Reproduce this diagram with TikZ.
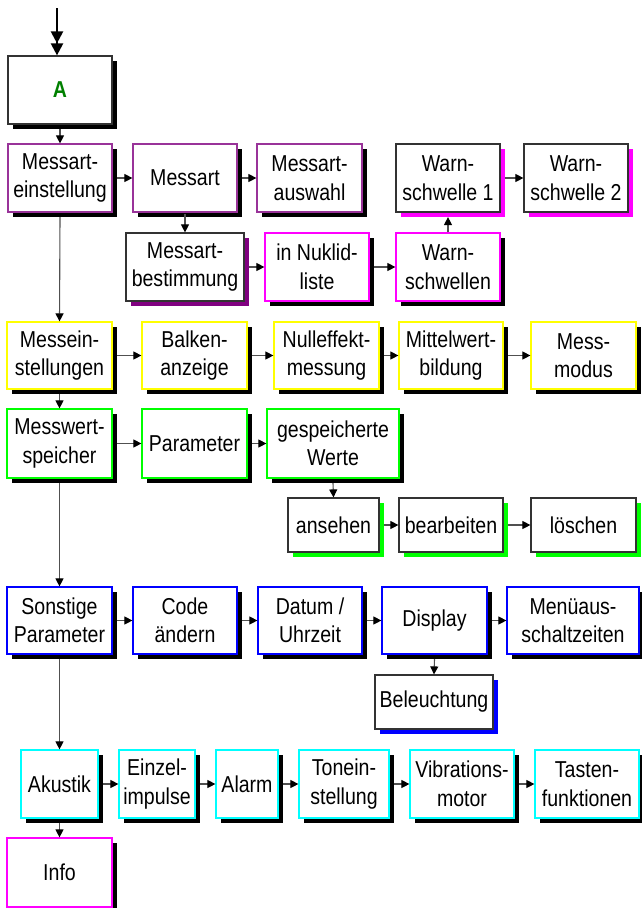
\documentclass[tikz,border=0pt]{standalone}
\usepackage{fontspec}
\setmainfont{Liberation Sans}
\newfontfamily\condfont[FakeStretch=0.85]{Liberation Sans}
\usetikzlibrary{arrows.meta,shadows}
\definecolor{purpbd}{HTML}{993399}
\definecolor{purpsh}{HTML}{800080}
\definecolor{magbd}{HTML}{FF00FF}
\definecolor{yelbd}{HTML}{FFFF00}
\definecolor{grnbd}{HTML}{00FF00}
\definecolor{blubd}{HTML}{0000FF}
\definecolor{cyabd}{HTML}{00FFFF}
\definecolor{darkgr}{HTML}{008000}
\definecolor{conn}{HTML}{505050}
\tikzset{
  box/.style={draw, line width=1.2pt, fill=white, inner sep=0pt, align=center,
    font=\condfont\fontsize{23}{28.5}\selectfont},
  shad/.style={general shadow={fill=#1, shadow xshift=4.5pt, shadow yshift=-4.5pt}},
  bw/.style={minimum width=#1},
  bh/.style={minimum height=#1},
  colbox/.style={box, draw=#1, shad=black},
  blkbox/.style={box, draw=black!80, shad=#1},
  link/.style={draw=conn, line width=1.1pt, -{Triangle[length=8pt,width=8pt,color=black]}},
}
\begin{document}
\begin{tikzpicture}[x=1pt,y=-1pt]
\useasboundingbox (0,0) rectangle (641,908);
% row 0
\node[blkbox=black, bw=104, bh=68, font=\condfont\fontsize{23}{28}\selectfont\bfseries, text=darkgr] (A) at (60,90) {A};
% row 1
\node[colbox=purpbd, bw=104, bh=68] (me) at (60,178) {Messart-\\einstellung};
\node[colbox=purpbd, bw=104, bh=68] (ma) at (185,178) {Messart};
\node[colbox=purpbd, bw=105, bh=68] (mau) at (309.5,178) {Messart-\\auswahl};
\node[blkbox=magbd, bw=104, bh=68] (ws1) at (448,178) {Warn-\\schwelle 1};
\node[blkbox=magbd, bw=104, bh=68] (ws2) at (576,178) {Warn-\\schwelle 2};
% row 2
\node[blkbox=purpsh, bw=118, bh=68] (mb) at (185,267) {Messart-\\bestimmung};
\node[colbox=magbd, bw=104, bh=68] (nl) at (317,267) {in Nuklid-\\liste};
\node[colbox=magbd, bw=104, bh=68] (wss) at (448,267) {Warn-\\schwellen};
% row 3
\node[colbox=yelbd, bw=105, bh=67] (mes) at (59.5,355.5) {Messein-\\stellungen};
\node[colbox=yelbd, bw=105, bh=67] (bal) at (194.5,355.5) {Balken-\\anzeige};
\node[colbox=yelbd, bw=105, bh=67] (nul) at (326.5,355.5) {Nulleffekt-\\messung};
\node[colbox=yelbd, bw=104, bh=67] (mit) at (451,355.5) {Mittelwert-\\bildung};
\node[colbox=yelbd, bw=105, bh=67] (mod) at (583.5,355.5) {Mess-\\modus};
% row 4
\node[colbox=grnbd, bw=105, bh=69] (mws) at (59.5,443.5) {Messwert-\\speicher};
\node[colbox=grnbd, bw=105, bh=69] (par) at (194.5,443.5) {Parameter};
\node[colbox=grnbd, bw=132, bh=69] (gw) at (333,443.5) {gespeicherte\\Werte};
% row 5
\node[blkbox=grnbd, bw=91, bh=54] (ans) at (333.5,525) {ansehen};
\node[blkbox=grnbd, bw=104, bh=54] (bea) at (451,525) {bearbeiten};
\node[blkbox=grnbd, bw=105, bh=54] (loe) at (583.5,525) {löschen};
% row 6
\node[colbox=blubd, bw=105, bh=67] (son) at (59.5,620.5) {Sonstige\\Parameter};
\node[colbox=blubd, bw=104, bh=67] (cod) at (185,620.5) {Code\\ändern};
\node[colbox=blubd, bw=104, bh=67] (dat) at (310,620.5) {Datum /\\Uhrzeit};
\node[colbox=blubd, bw=105, bh=67] (dis) at (434.5,620.5) {Display};
\node[colbox=blubd, bw=132, bh=67] (men) at (573,620.5) {Menüaus-\\schaltzeiten};
% row 7
\node[blkbox=blubd, bw=118, bh=54] (bel) at (434,702) {Beleuchtung};
% row 8
\node[colbox=cyabd, bw=77, bh=68] (aku) at (59.5,784) {Akustik};
\node[colbox=cyabd, bw=76, bh=68] (ein) at (157,784) {Einzel-\\impulse};
\node[colbox=cyabd, bw=62, bh=68] (ala) at (247,784) {Alarm};
\node[colbox=cyabd, bw=90, bh=68] (ton) at (344,784) {Tonein-\\stellung};
\node[colbox=cyabd, bw=104, bh=68] (vib) at (462,784) {Vibrations-\\motor};
\node[colbox=cyabd, bw=104, bh=68] (tas) at (587,784) {Tasten-\\funktionen};
% row 9
\node[colbox=magbd, bw=105, bh=69] (inf) at (59.5,872.5) {Info};

% entry arrow
\coordinate (top) at (57,8);
\draw[line width=2.2pt, -{Triangle[length=12pt,width=12pt]Triangle[length=12pt,width=12pt]}] (top) -- (A.north -| top);

% connectors
\draw[link] ([yshift=-4.5]A.south) -- (me.north);
\draw[link] ([xshift=4.5]me.east) -- (ma.west);
\draw[link] ([xshift=4.5]ma.east) -- (mau.west);
\draw[link] ([yshift=-1]ma.south) -- (mb.north);
\draw[link] ([xshift=4.5]mb.east) -- (nl.west);
\draw[link] ([xshift=4.5]nl.east) -- (wss.west);
\draw[link] (wss.north) -- ([yshift=-4.5]ws1.south);
\draw[link] ([xshift=4.5]ws1.east) -- (ws2.west);
\draw[link] ([yshift=-4.5]me.south) -- (mes.north);
\draw[link] ([xshift=4.5]mes.east) -- (bal.west);
\draw[link] ([xshift=4.5]bal.east) -- (nul.west);
\draw[link] ([xshift=4.5]nul.east) -- (mit.west);
\draw[link] ([xshift=4.5]mit.east) -- (mod.west);
\draw[link] ([yshift=-4.5]mes.south) -- (mws.north);
\draw[link] ([xshift=4.5]mws.east) -- (par.west);
\draw[link] ([xshift=4.5]par.east) -- (gw.west);
\draw[link] ([yshift=-4.5]gw.south) -- (ans.north);
\draw[link] ([xshift=4.5]ans.east) -- (bea.west);
\draw[link] ([xshift=4.5]bea.east) -- (loe.west);
\draw[link] ([yshift=-4.5]mws.south) -- (son.north);
\draw[link] ([xshift=4.5]son.east) -- (cod.west);
\draw[link] ([xshift=4.5]cod.east) -- (dat.west);
\draw[link] ([xshift=4.5]dat.east) -- (dis.west);
\draw[link] ([xshift=4.5]dis.east) -- (men.west);
\draw[link] ([yshift=-4.5]dis.south) -- (bel.north);
\draw[link] ([yshift=-4.5]son.south) -- (aku.north);
\draw[link] ([xshift=4.5]aku.east) -- (ein.west);
\draw[link] ([xshift=4.5]ein.east) -- (ala.west);
\draw[link] ([xshift=4.5]ala.east) -- (ton.west);
\draw[link] ([xshift=4.5]ton.east) -- (vib.west);
\draw[link] ([xshift=4.5]vib.east) -- (tas.west);
\draw[link] ([yshift=-4.5]aku.south) -- (inf.north);
\end{tikzpicture}
\end{document}
